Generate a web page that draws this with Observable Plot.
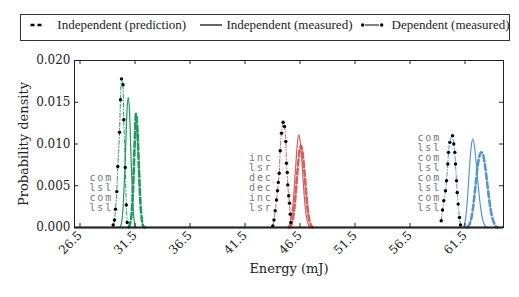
<!DOCTYPE html>
<html><head><meta charset="utf-8">
<script src="https://cdn.jsdelivr.net/npm/d3@7"></script>
<script src="https://cdn.jsdelivr.net/npm/@observablehq/plot@0.6"></script>
<style>
body{margin:0;background:#fff;}
#wrap{position:relative;width:519px;height:297px;}
#legend{position:absolute;left:0;top:0;}
</style></head><body><div id="wrap"></div>
<script>
// ---- data ----
const energyTicks = [26.5, 31.5, 36.5, 41.5, 46.5, 51.5, 56.5, 61.5];
const densityTicks = [0, 0.005, 0.010, 0.015, 0.020];
const groups = ["g1", "g2", "g3"];
const groupColors = ["#1e9b5e", "#d65f5f", "#5497d0"];
const legendLabels = ["Independent (prediction)", "Independent (measured)", "Dependent (measured)"];

const labelsG1 = ["com", "lsl", "com", "lsl"];
const labelsG2 = ["inc", "lsr", "dec", "dec", "inc", "lsr"];
const labelsG3 = ["com", "lsl", "com", "lsl", "com", "lsl", "com", "lsl"];

// [energy (mJ), probability density]
const predictionG1 = [[30.909,0],[31.045,0.0004],[31.182,0.0015],[31.318,0.0045],[31.455,0.0095],[31.591,0.0136],[31.727,0.0115],[31.864,0.0068],[32.0,0.0028],[32.136,0.0008],[32.273,0.0001],[32.409,0]];
const measuredG1 = [[30.091,0],[30.227,0.0003],[30.364,0.0015],[30.5,0.0045],[30.636,0.0090],[30.773,0.0140],[30.882,0.0156],[31.0,0.0140],[31.136,0.0085],[31.273,0.0037],[31.409,0.0010],[31.545,0]];
const dependentG1 = [[29.518,0.0003],[29.636,0.0009],[29.727,0.0022],[29.845,0.0043],[29.936,0.0073],[30.091,0.0114],[30.182,0.0153],[30.273,0.0178],[30.409,0.0171],[30.482,0.0129],[30.618,0.0072],[30.709,0.0027],[30.791,0.0006]];

const predictionG2 = [[45.545,0],[45.727,0.0004],[45.909,0.0015],[46.091,0.0038],[46.273,0.0068],[46.455,0.0092],[46.591,0.0098],[46.727,0.0090],[46.909,0.0066],[47.091,0.0036],[47.273,0.0014],[47.455,0.0004],[47.636,0]];
const measuredG2 = [[45.364,0],[45.545,0.0003],[45.727,0.0012],[45.909,0.0035],[46.091,0.0070],[46.273,0.0102],[46.391,0.0111],[46.545,0.0100],[46.727,0.0068],[46.909,0.0034],[47.091,0.0012],[47.273,0.0003],[47.455,0]];
const dependentG2 = [[44.027,0.0002],[44.136,0.0009],[44.245,0.0020],[44.364,0.0033],[44.455,0.0044],[44.527,0.0054],[44.609,0.0065],[44.7,0.0092],[44.818,0.0113],[44.964,0.0126],[45.091,0.0121],[45.209,0.0103],[45.273,0.0077],[45.345,0.0066],[45.391,0.0051],[45.473,0.0038],[45.545,0.0029],[45.609,0.0016],[45.664,0.0006]];

const predictionG3 = [[61.727,0],[61.909,0.0004],[62.091,0.0012],[62.273,0.0028],[62.455,0.0050],[62.636,0.0072],[62.818,0.0086],[63.0,0.0090],[63.182,0.0085],[63.364,0.0070],[63.545,0.0050],[63.727,0.0031],[63.909,0.0016],[64.091,0.0007],[64.273,0.0002],[64.455,0]];
const measuredG3 = [[61.364,0],[61.545,0.0010],[61.727,0.0035],[61.909,0.0072],[62.091,0.0100],[62.209,0.0106],[62.364,0.0097],[62.545,0.0074],[62.727,0.0047],[62.909,0.0025],[63.091,0.0010],[63.273,0.0003],[63.455,0]];
const dependentG3 = [[59.336,0.0008],[59.455,0.0021],[59.573,0.0032],[59.727,0.0044],[59.818,0.0056],[59.936,0.0076],[60.0,0.0090],[60.118,0.0102],[60.364,0.0110],[60.482,0.0100],[60.573,0.0090],[60.636,0.0076],[60.727,0.0056],[60.791,0.0042],[60.882,0.0028],[61.0,0.0012],[61.091,0.0003]];

// ---- build tables ----
const predictions = [predictionG1, predictionG2, predictionG3];
const measured = [measuredG1, measuredG2, measuredG3];
const dependent = [dependentG1, dependentG2, dependentG3];
const labels = [labelsG1, labelsG2, labelsG3];
const rows = (arrs) => arrs.flatMap((a, i) => a.map(([energy, density]) => ({group: groups[i], energy, density})));
const predRows = rows(predictions), measRows = rows(measured), depRows = rows(dependent);
const labelRows = groups.map((g, i) => ({group: g, energy: d3.min(dependent[i], d => d[0]), text: labels[i].join("\n")}));

const W = 519, H = 297, mL = 74, mR = 16, mT = 60, mB = 70;
const fw = W - mL - mR, fh = H - mT - mB, tk = 4;
const serif = "'DejaVu Serif', serif";

const chart = Plot.plot({
  width: W, height: H, marginLeft: mL, marginRight: mR, marginTop: mT, marginBottom: mB,
  style: {fontFamily: serif, fontSize: "12px", color: "#222", background: "white"},
  x: {domain: [26, 65]},
  y: {domain: [0, 0.02]},
  color: {domain: groups, range: groupColors},
  marks: [
    Plot.line(predRows, {x: "energy", y: "density", z: "group", stroke: "group", strokeWidth: 2.6, strokeDasharray: "6,3", curve: "monotone-x"}),
    Plot.line(measRows, {x: "energy", y: "density", z: "group", stroke: "group", strokeWidth: 1.2, curve: "monotone-x"}),
    Plot.line(depRows, {x: "energy", y: "density", z: "group", stroke: "group", strokeWidth: 1, strokeDasharray: "4,2,1,2", curve: "monotone-x"}),
    Plot.dot(depRows, {x: "energy", y: "density", r: 1.7, fill: "black"}),
    Plot.text(labelRows, {x: "energy", y: () => 0, text: "text", textAnchor: "end", lineAnchor: "bottom", dx: 0, dy: -17, fontFamily: "'DejaVu Sans Mono', monospace", fontSize: 10, lineHeight: 1, fill: "#777", ariaLabel: "task-labels"}),
    Plot.ruleY([0], {stroke: "black", strokeWidth: 2}),
    Plot.tickX(energyTicks, {x: d => d, insetTop: fh - tk, stroke: "#222"}),
    Plot.tickX(energyTicks, {x: d => d, insetBottom: fh - tk, stroke: "#222"}),
    Plot.tickY(densityTicks, {y: d => d, insetRight: fw - tk, stroke: "#222"}),
    Plot.tickY(densityTicks, {y: d => d, insetLeft: fw - tk, stroke: "#222"}),
    Plot.frame({stroke: "#222"}),
    Plot.axisX({ticks: energyTicks, tickFormat: d3.format(".1f"), tickSize: 0, tickRotate: -45, tickPadding: 6, label: null}),
    Plot.axisY({ticks: densityTicks, tickFormat: d3.format(".3f"), tickSize: 0, tickPadding: 4, label: null}),
    Plot.text(["Energy (mJ)"], {frameAnchor: "bottom", dy: 45, fontSize: 13}),
    Plot.text(["Probability density"], {frameAnchor: "left", textAnchor: "middle", rotate: -90, dx: -51, fontSize: 13})
  ]
});
document.getElementById("wrap").append(chart);
d3.select(chart).selectAll("text").filter(function() {
  return (this.getAttribute("font-family") || "").includes("Mono") || (this.parentNode.getAttribute("font-family") || "").includes("Mono");
}).attr("letter-spacing", "1.9").style("letter-spacing", "1.9px");

// ---- legend (above the plot frame) ----
const lg = d3.select("#wrap").append("svg").attr("id", "legend").attr("width", W).attr("height", 46);
lg.append("rect").attr("x", 20.5).attr("y", 14.5).attr("width", 489).attr("height", 26).attr("fill", "white").attr("stroke", "#333");
const ly = 25;
lg.append("line").attr("x1", 30.5).attr("x2", 42).attr("y1", ly).attr("y2", ly).attr("stroke", "black").attr("stroke-width", 2.6).attr("stroke-dasharray", "4,3");
lg.append("line").attr("x1", 200).attr("x2", 222).attr("y1", ly).attr("y2", ly).attr("stroke", "black").attr("stroke-width", 1.2);
lg.append("line").attr("x1", 365).attr("x2", 379).attr("y1", ly).attr("y2", ly).attr("stroke", "black").attr("stroke-width", 1);
lg.selectAll("circle").data([362.7, 381.7]).join("circle").attr("cx", d => d).attr("cy", ly).attr("r", 1.7).attr("fill", "black");
lg.selectAll("text").data(legendLabels.map((t, i) => [t, [57.3, 226.5, 391.5][i]])).join("text")
  .attr("x", d => d[1]).attr("y", 29.3).text(d => d[0])
  .attr("font-family", "'Liberation Serif', 'Times New Roman', serif").attr("font-size", 13).attr("fill", "#222");
</script></body></html>
